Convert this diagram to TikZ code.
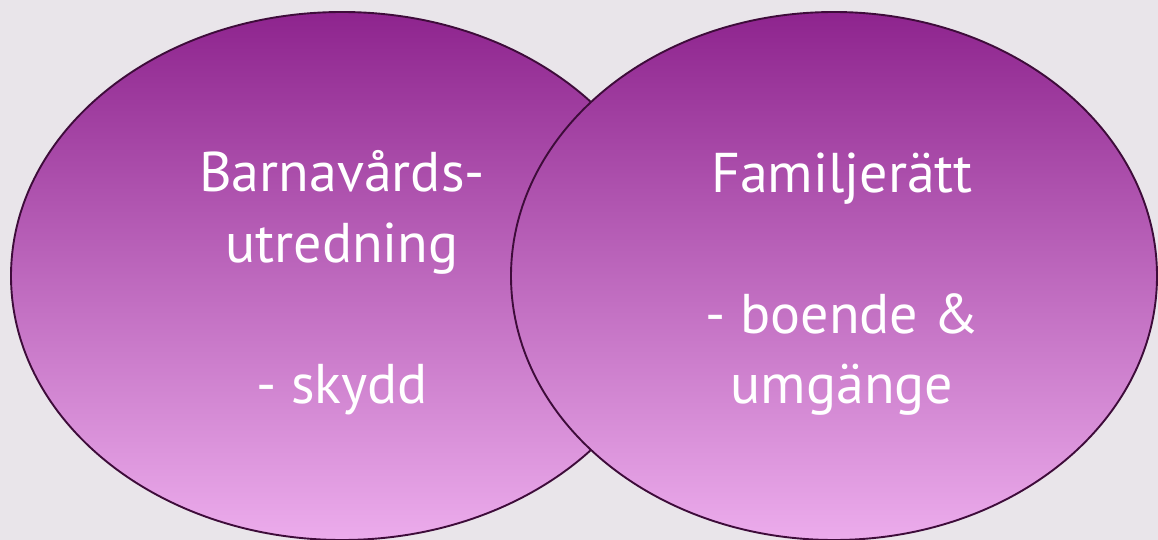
\documentclass[tikz,border=0pt]{standalone}
\usepackage{fontspec}
\setmainfont{PT Sans}
\usetikzlibrary{shapes.geometric}

\definecolor{bgpaper}{RGB}{233,229,234}
\definecolor{ringline}{RGB}{62,12,58}
\definecolor{plumtop}{RGB}{142,36,142}
\definecolor{plummid}{RGB}{200,110,200}
\definecolor{plumbot}{RGB}{236,172,236}

\begin{document}
\begin{tikzpicture}[x=1pt,y=-1pt,
    venn/.style={ellipse,draw=ringline,line width=1.9pt,
      top color=plumtop,middle color=plummid,bottom color=plumbot,
      inner sep=0pt},
    vtext/.style={anchor=base,text=white,font=\fontsize{56}{70}\selectfont,inner sep=0pt}]
		      \fill[bgpaper] (0,0) rectangle (1158,540);
		      \useasboundingbox (0,0) rectangle (1158,540);

		      \node[venn,minimum width=662pt,minimum height=528pt] (barn) at (342,276) {};
		      \node[venn,minimum width=646pt,minimum height=528pt] (fam) at (834,276) {};

		      \node[vtext] (barn1) at (342,192) {Barnavårds-};
		      \node[vtext] (barn2) at (342,262) {utredning};
		      \node[vtext] (barn3) at (342,403) {- skydd};

		      \node[vtext] (fam1) at (842,193) {Familjerätt};
		      \node[vtext] (fam2) at (842,333) {- boende \&};
		      \node[vtext] (fam3) at (842,403) {umgänge};
		    \end{tikzpicture}
\end{document}
